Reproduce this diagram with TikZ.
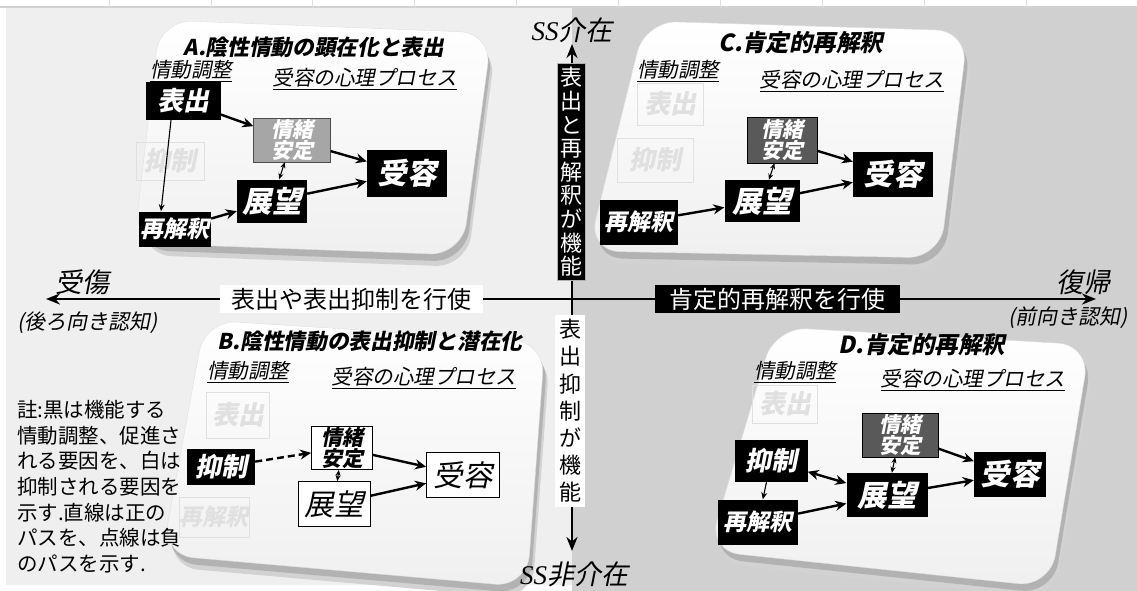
\documentclass[tikz,border=0pt]{standalone}
\usepackage{fontspec}
\setmainfont{Noto Sans CJK JP}
\newfontfamily\jpsl{Noto Sans CJK JP}[FakeSlant=0.2]
\newfontfamily\lserif{Liberation Serif}
\usetikzlibrary{arrows.meta,calc}
\definecolor{bgL}{HTML}{EFEFEF}
\definecolor{bgR}{HTML}{D0D0D0}
\definecolor{midgray}{HTML}{A6A6A6}
\definecolor{darkbox}{HTML}{595959}
\definecolor{faint}{HTML}{E0E0E0}
\newcommand{\fs}[2]{\fontsize{#1}{#2}\selectfont}
\tikzset{
  face/.style={rounded corners=32pt, top color=white, bottom color=gray!12, draw=gray!25},
  shad/.style={rounded corners=32pt, fill=gray!60},
  shad2/.style={rounded corners=32pt, fill=gray!35},
  blk/.style={fill=black, text=white, inner sep=0pt},
  gbox/.style={fill=midgray, draw=gray!60!black, text=white, inner sep=0pt, align=center, font=\jpsl\bfseries\fs{21}{20.5}},
  dbox/.style={fill=darkbox, draw=black, text=white, inner sep=0pt, align=center, font=\jpsl\bfseries\fs{21}{20.5}},
  wbox/.style={fill=white, draw=black, line width=0.8pt, text=black, inner sep=0pt},
  fbox/.style={draw=faint, text=faint, inner sep=0pt},
  ttl/.style={font=\jpsl\bfseries\fs{21.7}{23}},
  ttlc/.style={font=\jpsl\bfseries\fs{23.5}{25}},
  sub/.style={font=\jpsl\fs{20.5}{22}},
  big/.style={font=\jpsl\bfseries\fs{29.5}{31}},
  bign/.style={font=\jpsl\fs{29.5}{31}},
  mid/.style={font=\jpsl\bfseries\fs{26}{28}},
  sml/.style={font=\jpsl\bfseries\fs{23}{25}},
  arr/.style={-{Stealth[length=11pt,width=10pt]}, line width=2.4pt},
  tarr/.style={-{Stealth[length=7pt,width=6pt]}, line width=1.1pt},
  tdbl/.style={{Stealth[length=6pt,width=5pt]}-{Stealth[length=6pt,width=5pt]}, line width=1.1pt},
  axis/.style={-{Stealth[length=14pt,width=11pt]}, line width=2.4pt},
  axlab/.style={font=\jpsl\fs{27}{29}},
  axsub/.style={font=\jpsl\fs{21}{23}},
}
\begin{document}
\begin{tikzpicture}[x=1pt,y=-1pt]
\useasboundingbox (0,0) rectangle (1137,591);
% background
\fill[white] (0,0) rectangle (1137,591);
\fill[bgL] (6,8) rectangle (572,585);
\fill[bgR] (572,8) rectangle (1137,591);
\draw[gray!35, line width=1.2pt] (0,7) -- (1137,7);
\foreach \t in {109,211,312,414,516,618,720,822,924,1026} \draw[gray!25] (\t,0) -- (\t,7);

% panel shapes
\fill[shad2] (165,32) -- (496,44) -- (467,267) -- (140,255) -- cycle;
\fill[shad] (163,28) -- (494,40) -- (465,262) -- (138,250) -- cycle;
\shade[face] (160,20) -- (492,33) -- (462,255) -- (134,243) -- cycle;
\fill[shad2] (650,32) -- (973,42) -- (946,270) -- (593,263) -- cycle;
\fill[shad] (648,28) -- (971,38) -- (944,265) -- (591,258) -- cycle;
\shade[face] (645,21) -- (968,31) -- (940,258) -- (588,251) -- cycle;
\fill[shad2] (210,331) -- (550,353) -- (532,599) -- (167,567) -- cycle;
\fill[shad] (208,327) -- (548,349) -- (530,594) -- (165,562) -- cycle;
\shade[face] (205,320) -- (545,342) -- (527,587) -- (162,555) -- cycle;
\fill[shad2] (780,338) -- (1095,356) -- (1055,599) -- (713,563) -- cycle;
\fill[shad] (778,334) -- (1093,352) -- (1053,594) -- (711,558) -- cycle;
\shade[face] (775,327) -- (1090,345) -- (1050,587) -- (708,551) -- cycle;

% ---------- Panel A ----------
\node[ttl] (a-t) at (314,47) {A.陰性情動の顕在化と表出};
\node[sub] (a-l) at (191,71) {\underline{情動調整}};
\node[sub] (a-r) at (365,79) {\underline{受容の心理プロセス}};
\node[fbox, mid, minimum width=68pt, minimum height=38pt] (a-su) at (170,161) {抑制};
\node[blk, mid, minimum width=75pt, minimum height=38pt] (a-ex) at (183,101) {表出};
\node[blk, sml, minimum width=72pt, minimum height=35pt] (a-re) at (175,229) {再解釈};
\node[gbox, minimum width=77pt, minimum height=44pt] (a-st) at (292,140) {情緒\\安定};
\node[blk, big, minimum width=70pt, minimum height=43pt] (a-pr) at (272,201) {展望};
\node[blk, big, minimum width=80pt, minimum height=47pt] (a-ac) at (407,173) {受容};
\draw[arr] (a-ex) -- (a-st);
\draw[tarr] ([xshift=-12pt]a-ex.south) -- ([xshift=-14pt]a-re.north);
\draw[arr] (a-re) -- (a-pr);
\draw[tdbl] (a-st) -- (a-pr);
\draw[arr] (a-st) -- (a-ac);
\draw[arr] (a-pr) -- (a-ac);

% ---------- Panel C ----------
\node[ttlc] (c-t) at (801,43) {C.肯定的再解釈};
\node[sub] (c-l) at (678,71) {\underline{情動調整}};
\node[sub] (c-r) at (852,81) {\underline{受容の心理プロセス}};
\node[fbox, mid, minimum width=66pt, minimum height=42pt] (c-ex) at (670,104) {表出};
\node[fbox, mid, minimum width=76pt, minimum height=44pt] (c-su) at (655,160) {抑制};
\node[blk, sml, minimum width=78pt, minimum height=45pt] (c-re) at (639,222) {再解釈};
\node[dbox, minimum width=70pt, minimum height=46pt] (c-st) at (782,140) {情緒\\安定};
\node[blk, big, minimum width=75pt, minimum height=42pt] (c-pr) at (762,201) {展望};
\node[blk, big, minimum width=80pt, minimum height=45pt] (c-ac) at (893,174) {受容};
\draw[arr] (c-re) -- (c-pr);
\draw[tdbl] (c-st) -- (c-pr);
\draw[arr] (c-st) -- (c-ac);
\draw[arr] (c-pr) -- (c-ac);

% ---------- Panel B ----------
\node[ttl] (b-t) at (370,341) {B.陰性情動の表出抑制と潜在化};
\node[sub] (b-l) at (248,372) {\underline{情動調整}};
\node[sub] (b-r) at (424,378) {\underline{受容の心理プロセス}};
\node[fbox, mid, minimum width=63pt, minimum height=46pt] (b-ex) at (238,415) {表出};
\node[blk, mid, minimum width=68pt, minimum height=36pt] (b-su) at (221,467) {抑制};
\node[fbox, sml, minimum width=70pt, minimum height=40pt] (b-re) at (214,517) {再解釈};
\node[wbox, align=center, font=\jpsl\bfseries\fs{21}{20.5}, minimum width=61pt, minimum height=43pt] (b-st) at (342,448) {情緒\\安定};
\node[wbox, bign, minimum width=72pt, minimum height=45pt] (b-pr) at (334,504) {展望};
\node[wbox, bign, minimum width=73pt, minimum height=45pt] (b-ac) at (463,475) {受容};
\draw[arr, dashed, dash pattern=on 7pt off 4pt] (b-su) -- (b-st);
\draw[tdbl] (b-st) -- (b-pr);
\draw[arr] (b-st) -- (b-ac);
\draw[arr] (b-pr) -- (b-ac);

% ---------- Panel D ----------
\node[ttlc] (d-t) at (922,345) {D.肯定的再解釈};
\node[sub] (d-l) at (795,372) {\underline{情動調整}};
\node[sub] (d-r) at (973,380) {\underline{受容の心理プロセス}};
\node[fbox, mid, minimum width=65pt, minimum height=38pt] (d-ex) at (785,404) {表出};
\node[blk, mid, minimum width=73pt, minimum height=42pt] (d-su) at (771,461) {抑制};
\node[blk, sml, minimum width=80pt, minimum height=45pt] (d-re) at (758,522) {再解釈};
\node[dbox, minimum width=76pt, minimum height=44pt] (d-st) at (900,435) {情緒\\安定};
\node[blk, big, minimum width=81pt, minimum height=44pt] (d-pr) at (887,495) {展望};
\node[blk, big, minimum width=72pt, minimum height=45pt] (d-ac) at (1010,474) {受容};
\draw[arr, {Stealth[length=11pt,width=10pt]}-{Stealth[length=11pt,width=10pt]}] (d-su) -- (d-pr);
\draw[tarr] (d-su) -- (d-re);
\draw[arr] (d-re) -- (d-pr);
\draw[tdbl] (d-st) -- (d-pr);
\draw[arr] (d-st) -- (d-ac);
\draw[arr] (d-pr) -- (d-ac);

% ---------- Axes ----------
\coordinate (hc) at (572,299);
\coordinate (axL) at (46,299);
\coordinate (axR) at (1096,299);
\coordinate (axT) at (572,44);
\coordinate (axB) at (572,551);
\draw[axis] (hc) -- (axL);
\draw[axis] (hc) -- (axR);
\draw[axis] (hc) -- (axT);
\draw[axis] (hc) -- (axB);

\node[fill=white, minimum width=263pt, minimum height=28pt, inner sep=0pt, font=\fs{24}{26}] (hl) at (351,299) {表出や表出抑制を行使};
\node[fill=black, text=white, minimum width=245pt, minimum height=28pt, inner sep=0pt, font=\fs{24}{26}] (hr) at (777,299) {肯定的再解釈を行使};
\node[fill=black, draw=gray!60, text=white, minimum width=28pt, inner sep=0pt, inner ysep=4pt, align=center, font=\fs{22}{23.6}] (vt) at (571,172) {表\\出\\と\\再\\解\\釈\\が\\機\\能};
\node[fill=white, minimum width=30pt, inner sep=0pt, inner ysep=4pt, align=center, font=\fs{22}{27.2}] (vb) at (570,411) {表\\出\\抑\\制\\が\\機\\能};

\node[font=\fs{27}{29}] (ss1) at (572,30) {{\lserif\itshape SS}{\jpsl 介在}};
\node[font=\fs{27}{29}] (ss2) at (574,574) {{\lserif\itshape SS}{\jpsl 非介在}};
\node[axlab] (ju) at (82,282) {受傷};
\node[axsub] (jus) at (88,323) {(後ろ向き認知)};
\node[axlab] (fu) at (1083,282) {復帰};
\node[axsub] (fus) at (1068,318) {(前向き認知)};

% note
\node[anchor=north west, align=left, inner sep=0pt, font=\fs{20.5}{25.7}] (note) at (17,400) {註:黒は機能する\\情動調整、促進さ\\れる要因を、白は\\抑制される要因を\\示す.直線は正の\\パスを、点線は負\\のパスを示す.};
\end{tikzpicture}
\end{document}
